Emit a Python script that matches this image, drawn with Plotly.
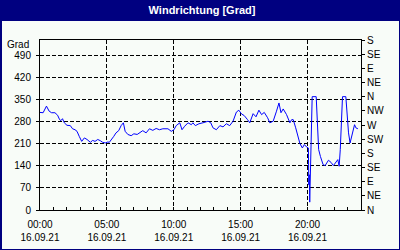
import plotly.graph_objects as go

# ---- data ----
times = ["00:00","00:14","00:29","00:41","00:52","01:07","01:19","01:28","01:34","01:41",
         "01:49","02:01","02:16","02:26","02:37","02:46","02:56","03:07","03:19","03:31",
         "03:46","03:56","04:07","04:19","04:31","04:41","04:53","05:04","05:11","05:22",
         "05:31","05:41","05:53","06:04","06:14","06:22","06:34","06:49","07:01","07:16",
         "07:31","07:41","07:56","08:11","08:26","08:41","08:56","09:11","09:34","09:49",
         "10:01","10:11","10:27","10:37","10:49","11:04","11:19","11:26","11:37","11:53",
         "12:11","12:34","12:46","12:56","13:11","13:27","13:41","13:56","14:11","14:26",
         "14:41","14:52","15:04","15:16","15:31","15:41","15:56","16:09","16:22","16:34",
         "16:46","17:01","17:11","17:26","17:41","17:52","18:01","18:11","18:26","18:41",
         "18:49","18:56","19:07","19:19","19:26","19:37","19:46","19:56","20:04","20:06",
         "20:08","20:10","20:13","20:18","20:21","20:39","20:43","20:50","20:58","21:10",
         "21:19","21:34","21:46","21:56","22:16","22:22","22:27","22:34","22:37","22:52",
         "22:56","23:04","23:11","23:22","23:31","23:37","23:46"]
direction = [310,309,330,314,309,309,301,287,284,290,
             277,269,268,258,255,250,234,218,229,224,
             215,221,218,224,220,215,213,216,215,224,
             234,245,252,268,277,250,240,236,242,240,
             248,252,245,258,253,259,255,258,258,250,
             255,268,277,255,266,277,271,277,268,274,
             277,282,277,261,255,268,264,274,268,282,
             311,317,305,300,287,277,306,296,317,303,
             310,293,277,282,314,340,309,321,303,277,
             287,287,261,224,211,197,208,200,197,80,
             112,25,107,277,360,360,277,192,170,144,
             141,158,151,141,160,139,192,298,360,360,
             319,245,213,245,271,261,258]
day = "2021-09-16"
x_start = "2021-09-16 00:00"
x_end = "2021-09-17 00:00"
left_ticks = [0, 70, 140, 210, 280, 350, 420, 490]
compass_vals = [0, 45, 90, 135, 180, 225, 270, 315, 360, 405, 450, 495, 540]
compass_text = ["N", "NE", "E", "SE", "S", "SW", "W", "NW", "N", "NE", "E", "SE", "S"]
title_text = "Windrichtung [Grad]"
unit_text = "Grad"

xs = [f"{day} {t}" for t in times]

NAVY = "#000080"
BG = "#F8FCF8"
FONT = dict(family="Liberation Sans, Arial, sans-serif", size=10, color="black")

fig = go.Figure()
fig.add_trace(go.Scatter(x=xs, y=direction, mode="lines",
                         line=dict(color="#0000FF", width=1),
                         hoverinfo="skip", showlegend=False))
fig.add_trace(go.Scatter(x=[xs[0]], y=[direction[0]], xaxis="x2", yaxis="y",
                         mode="markers", marker=dict(opacity=0),
                         hoverinfo="skip", showlegend=False))
fig.add_trace(go.Scatter(x=[xs[0]], y=[direction[0]], xaxis="x", yaxis="y2",
                         mode="markers", marker=dict(opacity=0),
                         hoverinfo="skip", showlegend=False))

grid_dash = "4px,2px"
fig.update_layout(
    width=400, height=250,
    margin=dict(l=40, r=39, t=40, b=40, pad=0, autoexpand=False),
    paper_bgcolor=NAVY, plot_bgcolor=BG,
    font=FONT,
    title=dict(text=f"<b>{title_text}</b>", x=0.505, xanchor="center",
               y=1 - 10 / 250, yanchor="middle",
               font=dict(family="Liberation Sans, Arial, sans-serif", size=11, color="white")),
    xaxis=dict(type="date", range=[x_start, x_end], tick0=x_start, dtick=5 * 3600000,
               tickformat="%H:%M", showline=True, linecolor="black", linewidth=1, mirror=True,
               ticks="inside", ticklen=3, tickcolor="black", ticklabelstandoff=5,
               automargin=False,
               showgrid=True, gridcolor="black", gridwidth=1, griddash=grid_dash,
               minor=dict(dtick=3600000, tick0=x_start, ticks="inside", ticklen=3,
                          tickcolor="black", showgrid=False),
               zeroline=False, tickfont=FONT),
    xaxis2=dict(type="date", range=[x_start, x_end], tick0=x_start, dtick=5 * 3600000,
                tickformat="%d.%m.%y", overlaying="x", anchor="y", side="bottom",
                showline=False, showgrid=False, ticks="", ticklabelstandoff=20,
                automargin=False, zeroline=False, tickfont=FONT),
    yaxis=dict(range=[0, 540], tickvals=left_ticks, showline=True, linecolor="black",
               linewidth=1, ticks="outside", ticklen=3, tickcolor="black",
               ticklabelstandoff=3, automargin=False,
               showgrid=True, gridcolor="black", gridwidth=1, griddash=grid_dash,
               zeroline=False, tickfont=FONT),
    yaxis2=dict(range=[0, 540], tickvals=compass_vals, ticktext=compass_text,
                overlaying="y", side="right", anchor="x", showline=True, linecolor="black",
                linewidth=1, ticks="outside", ticklen=3, tickcolor="black",
                automargin=False, showgrid=False, zeroline=False, tickfont=FONT),
    shapes=[dict(type="rect", xref="paper", yref="paper", layer="below",
                 x0=(2 - 40) / 321, x1=(399 - 40) / 321,
                 y0=(210 - 249) / 170, y1=(210 - 21) / 170,
                 fillcolor=BG, line=dict(width=0))],
    annotations=[dict(text=unit_text, xref="paper", yref="y", x=0, y=525,
                      xanchor="right", yanchor="middle", xshift=-9, showarrow=False,
                      font=FONT)],
)

fig.write_html("out.html")
